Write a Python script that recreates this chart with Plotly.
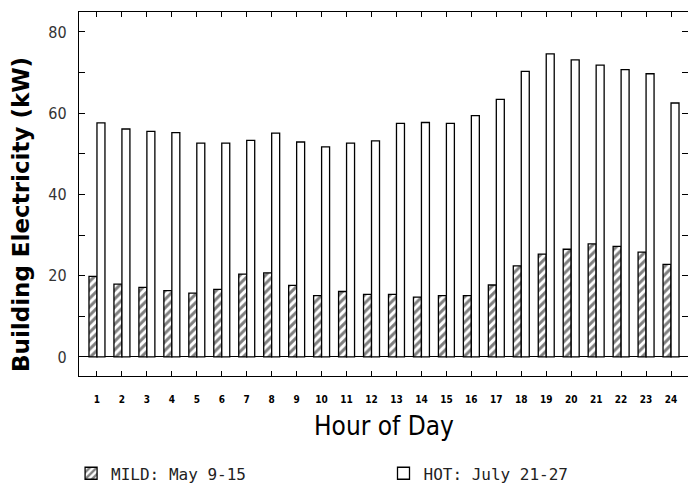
import plotly.graph_objects as go

hours = list(range(1, 25))
hour_labels = [str(h) for h in hours]
mild_kw = [19.8, 17.9, 17.1, 16.3, 15.7, 16.6, 20.4, 20.7, 17.6, 15.1, 16.1, 15.4,
           15.4, 14.7, 15.1, 15.1, 17.7, 22.4, 25.3, 26.5, 27.8, 27.2, 25.8, 22.8]
hot_kw = [57.6, 56.1, 55.5, 55.2, 52.6, 52.6, 53.3, 55.1, 52.9, 51.7, 52.6, 53.2,
          57.5, 57.7, 57.5, 59.4, 63.4, 70.3, 74.6, 73.1, 71.8, 70.7, 69.7, 62.5]
y_tickvals = [0, 10, 20, 30, 40, 50, 60, 70, 80]
y_ticktext = ["0", "", "20", "", "40", "", "60", "", "80"]

NARROW = "DejaVu Sans Condensed, DejaVu Sans, sans-serif"
MONO = "DejaVu Sans Mono, Liberation Mono, monospace"

fig = go.Figure()
fig.add_trace(go.Bar(
    x=hours, y=mild_kw, name="MILD: May 9-15", legend="legend",
    marker=dict(color="white", line=dict(color="black", width=1.3),
                pattern=dict(shape="/", fgcolor="black", bgcolor="white",
                             size=6, solidity=0.5)),
))
fig.add_trace(go.Bar(
    x=hours, y=hot_kw, name="HOT: July 21-27", legend="legend2",
    marker=dict(color="white", line=dict(color="black", width=1.3)),
))

leg_common = dict(orientation="h", yref="container", yanchor="middle", y=0.028,
                  xanchor="left",
                  font=dict(family=MONO, size=16, color="#222"),
                  bgcolor="rgba(0,0,0,0)", borderwidth=0)

fig.update_layout(
    width=688, height=487,
    margin=dict(l=79, r=0, t=12, b=111),
    paper_bgcolor="white", plot_bgcolor="white",
    barmode="group", bargap=0.36, bargroupgap=0,
    showlegend=True,
    legend=dict(x=-0.013, **leg_common),
    legend2=dict(x=0.5, **leg_common),
    xaxis=dict(range=[0.28, 24.68], tickvals=hours, ticktext=hour_labels,
               ticks="inside", ticklen=5, tickcolor="black", tickwidth=1,
               showline=True, linecolor="black", linewidth=1.3, mirror="ticks",
               showgrid=False, zeroline=False, ticklabelstandoff=14,
               tickfont=dict(family=NARROW, size=10, color="black", weight="bold")),
    yaxis=dict(range=[-4.7, 84.9], tickvals=y_tickvals, ticktext=y_ticktext,
               ticks="inside", ticklen=6, tickcolor="black", tickwidth=1,
               showline=True, linecolor="black", linewidth=1.3, mirror="ticks",
               showgrid=False, zeroline=True, zerolinecolor="black", zerolinewidth=1.3,
               ticklabelstandoff=8,
               tickfont=dict(family=NARROW, size=16, color="#333")),
    annotations=[
        dict(text="Hour of Day", xref="paper", yref="paper", x=0.5, y=0,
             xanchor="center", yanchor="middle", yshift=-50, showarrow=False,
             font=dict(family=NARROW, size=26, color="black")),
        dict(text="Building Electricity (kW)", xref="paper", yref="paper", x=0, y=0.5,
             xanchor="center", yanchor="middle", xshift=-58, yshift=-21, textangle=-90,
             showarrow=False,
             font=dict(family="DejaVu Sans, sans-serif", size=23, color="black", weight="bold")),
    ],
)

fig.write_html("out.html", config={"displayModeBar": False},
               post_script="document.body.style.margin='0';document.body.style.overflow='hidden';")
